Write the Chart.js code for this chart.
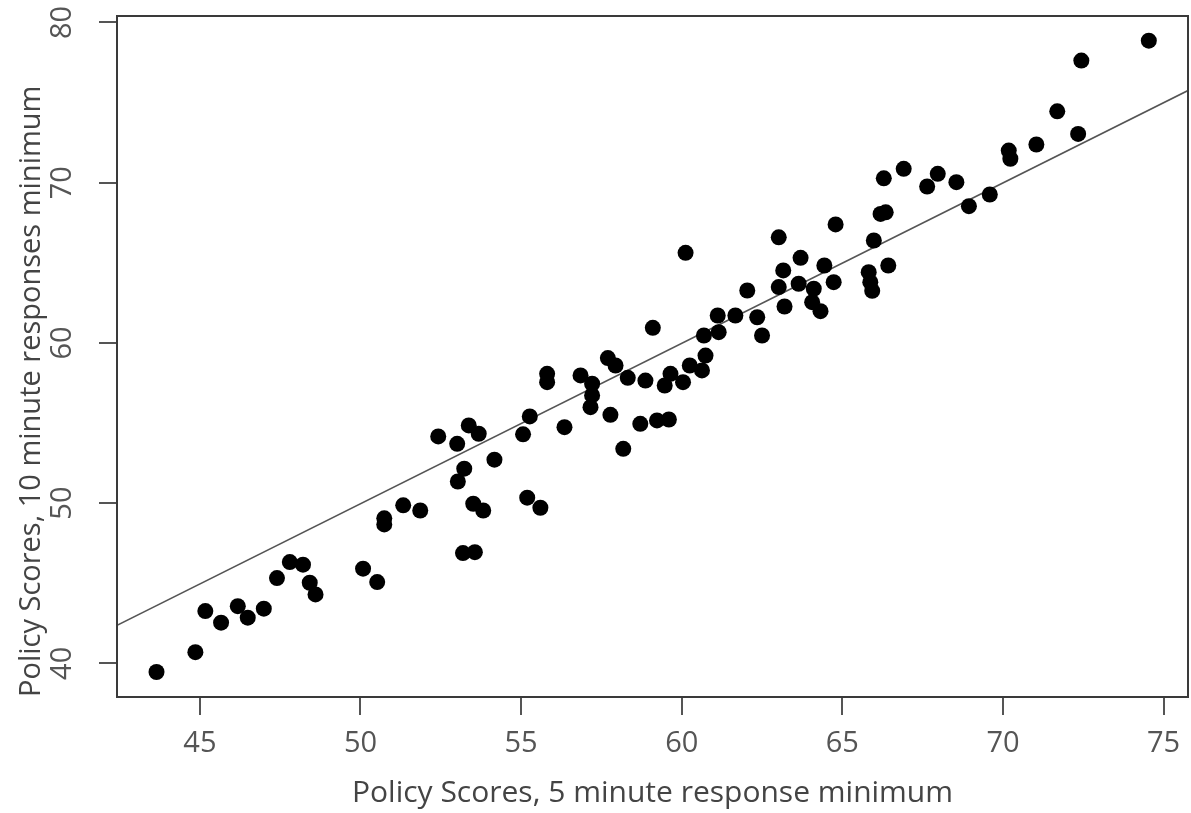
<!DOCTYPE html>
<html>
<head>
<meta charset="utf-8">
<script src="https://cdn.jsdelivr.net/npm/chart.js@4.4.1/dist/chart.umd.min.js"></script>
<style>
  html, body { margin: 0; padding: 0; background: #ffffff; }
  #wrap { width: 1191px; height: 813px; }
</style>
</head>
<body>
<div id="wrap"><canvas id="c" width="1191" height="813"></canvas></div>
<script>
const xValues = [43.65,44.86,45.17,45.66,46.18,46.49,46.99,47.40,47.80,48.21,48.42,48.60,50.08,50.52,50.74,50.74,51.33,51.86,52.42,53.01,53.37,53.68,53.23,53.03,54.17,53.51,53.82,53.19,53.56,55.06,55.27,56.35,55.19,55.60,55.81,55.81,56.85,57.21,57.21,57.16,57.78,57.70,57.94,58.32,58.18,58.71,59.23,59.60,58.87,59.10,59.47,59.65,60.04,60.25,60.63,60.74,60.69,61.15,60.12,61.12,61.67,62.35,62.50,62.04,63.02,63.16,63.02,63.20,63.70,63.64,64.11,64.06,64.32,64.44,64.73,64.79,65.82,65.87,65.93,66.29,66.91,66.19,66.35,65.98,66.43,67.64,67.97,68.55,68.94,69.59,70.18,70.23,71.04,71.69,72.34,72.44,74.54];
const yValues = [39.46,40.70,43.26,42.54,43.57,42.85,43.41,45.32,46.32,46.16,45.03,44.30,45.91,45.07,49.05,48.67,49.86,49.54,54.16,53.70,54.85,54.33,52.15,51.35,52.71,49.96,49.54,46.88,46.94,54.29,55.41,54.74,50.34,49.71,58.07,57.55,57.97,57.45,56.72,55.99,55.51,59.05,58.59,57.82,53.39,54.95,55.16,55.22,57.65,60.94,57.34,58.07,57.55,58.59,58.28,59.21,60.46,60.67,65.62,61.71,61.71,61.60,60.46,63.27,66.59,64.52,63.48,62.27,65.31,63.69,63.38,62.54,61.98,64.83,63.79,67.39,64.41,63.79,63.25,70.27,70.86,68.05,68.15,66.39,64.83,69.76,70.55,70.03,68.53,69.26,72.00,71.49,72.38,74.45,73.04,77.62,78.86];
const fitLineX = [42.42, 75.76];
const fitLineY = [42.37, 75.75];
const xTicks = [45, 50, 55, 60, 65, 70, 75];
const yTicks = [40, 50, 60, 70, 80];
const xTitle = 'Policy Scores, 5 minute response minimum';
const yTitle = 'Policy Scores, 10 minute responses minimum';

const points = xValues.map((x, i) => ({ x: x, y: yValues[i] }));
const linePts = fitLineX.map((x, i) => ({ x: x, y: fitLineY[i] }));

const frame = {
  id: 'frame',
  afterDatasetsDraw(chart) {
    const a = chart.chartArea, ctx = chart.ctx;
    ctx.save();
    ctx.strokeStyle = '#3a3a3a';
    ctx.lineWidth = 2;
    ctx.strokeRect(a.left, a.top, a.right - a.left, a.bottom - a.top);
    ctx.restore();
  }
};

new Chart(document.getElementById('c'), {
  type: 'scatter',
  data: {
    datasets: [
      {
        data: points,
        backgroundColor: '#000000',
        borderColor: '#000000',
        pointRadius: 8,
        pointBorderWidth: 0
      },
      {
        type: 'line',
        data: linePts,
        borderColor: '#555555',
        borderWidth: 1.6,
        pointRadius: 0,
        fill: false,
        showLine: true
      }
    ]
  },
  options: {
    responsive: false,
    animation: false,
    devicePixelRatio: 1,
    layout: { autoPadding: false, padding: { left: 0, right: 3, top: 16, bottom: 0 } },
    plugins: { legend: { display: false }, tooltip: { enabled: false } },
    scales: {
      x: {
        type: 'linear',
        min: 42.42, max: 75.76,
        afterBuildTicks: (s) => { s.ticks = xTicks.map(v => ({ value: v })); },
        afterFit: (s) => { s.height = 116; s.paddingLeft = 0; s.paddingRight = 0; },
        grid: { drawOnChartArea: false, drawTicks: true, tickLength: 18, color: '#555555', lineWidth: 2 },
        border: { display: false },
        ticks: { color: '#555555', font: { family: 'Open Sans', size: 29 }, padding: 11, autoSkip: false, maxRotation: 0 },
        title: { display: true, text: xTitle, color: '#444444', font: { family: 'Open Sans', size: 30 }, padding: { top: 0, bottom: 2 } }
      },
      y: {
        type: 'linear',
        min: 37.9, max: 80.4,
        afterBuildTicks: (s) => { s.ticks = yTicks.map(v => ({ value: v })); },
        afterFit: (s) => { s.width = 117; s.paddingTop = 0; s.paddingBottom = 0; },
        grid: { drawOnChartArea: false, drawTicks: true, tickLength: 18, color: '#555555', lineWidth: 2 },
        border: { display: false },
        ticks: { color: '#555555', font: { family: 'Open Sans', size: 29 }, padding: 20, autoSkip: false, minRotation: 90, maxRotation: 90, crossAlign: 'center' },
        title: { display: true, text: yTitle, align: 'start', color: '#444444', font: { family: 'Open Sans', size: 29 }, padding: { top: 14, bottom: 0 } }
      }
    }
  },
  plugins: [frame]
});
</script>
</body>
</html>
